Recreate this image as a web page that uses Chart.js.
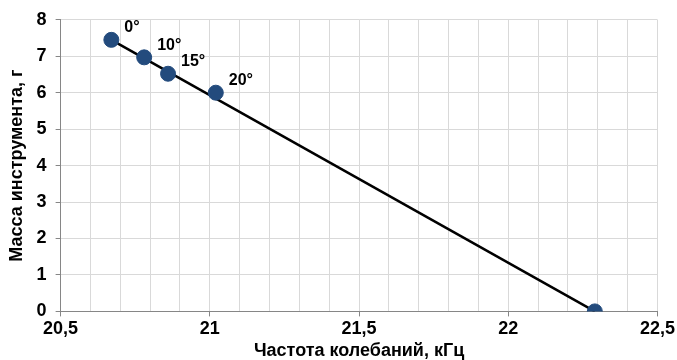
<!DOCTYPE html>
<html>
<head>
<meta charset="utf-8">
<script src="https://cdn.jsdelivr.net/npm/chart.js@4.4.1/dist/chart.umd.min.js"></script>
<style>
  html, body { margin: 0; padding: 0; background: #fff; }
  #wrap { width: 677px; height: 360px; }
</style>
</head>
<body>
<div id="wrap"><canvas id="chart"></canvas></div>
<script>
const FREQ = [20.67, 20.78, 20.86, 21.02, 22.29];
const MASS = [7.45, 6.97, 6.52, 6.0, 0];
const ANGLES = ['0°', '10°', '15°', '20°', ''];
const X_TITLE = 'Частота колебаний, кГц';
const Y_TITLE = 'Масса инструмента, г';

const FONT = 'Liberation Sans, Arial, sans-serif';

const points = FREQ.map((f, i) => ({ x: f, y: MASS[i] }));

// straight line from the first to the last measurement
const trend = [points[0], points[points.length - 1]];

const isMajor = (v) => Math.round(v * 10) % 5 === 0;

// angle labels next to the markers
const angleLabels = {
  id: 'angleLabels',
  afterDatasetsDraw(chart) {
    const { ctx, scales } = chart;
    ctx.save();
    ctx.font = 'bold 16px ' + FONT;
    ctx.fillStyle = '#000';
    ctx.textAlign = 'left';
    ctx.textBaseline = 'bottom';
    points.forEach((p, i) => {
      if (!ANGLES[i]) return;
      const px = scales.x.getPixelForValue(p.x);
      const py = scales.y.getPixelForValue(p.y);
      ctx.fillText(ANGLES[i], px + 13, py - 4);
    });
    ctx.restore();
  },
};

new Chart(document.getElementById('chart'), {
  type: 'scatter',
  data: {
    datasets: [
      {
        data: trend,
        showLine: true,
        borderColor: '#000',
        borderWidth: 2.5,
        pointRadius: 0,
        order: 2,
      },
      {
        data: points,
        backgroundColor: '#234B7D',
        borderColor: '#234B7D',
        pointRadius: 7.5,
        pointHoverRadius: 7.5,
        order: 1,
      },
    ],
  },
  options: {
    responsive: true,
    maintainAspectRatio: false,
    animation: false,
    layout: { padding: { top: 9, right: -3, left: 1, bottom: 0 } },
    plugins: {
      legend: { display: false },
      tooltip: { enabled: false },
    },
    scales: {
      x: {
        type: 'linear',
        min: 20.5,
        max: 22.5,
        ticks: {
          stepSize: 0.1,
          autoSkip: false,
          maxRotation: 0,
          padding: 2,
          color: '#000',
          font: { family: FONT, size: 18, weight: 'bold' },
          callback: (v) => (isMajor(v) ? String(Math.round(v * 10) / 10).replace('.', ',') : ''),
        },
        grid: {
          color: '#D9D9D9',
          lineWidth: 1,
          tickLength: 5,
          tickColor: (ctx) => (ctx.tick && isMajor(ctx.tick.value) ? '#868686' : 'rgba(0,0,0,0)'),
        },
        border: { color: '#868686', width: 1 },
        title: {
          display: true,
          text: X_TITLE,
          color: '#000',
          padding: { top: 0, bottom: 0 },
          font: { family: FONT, size: 18, weight: 'bold', lineHeight: 1 },
        },
      },
      y: {
        min: 0,
        max: 8,
        ticks: {
          stepSize: 1,
          padding: 9,
          color: '#000',
          font: { family: FONT, size: 18, weight: 'bold' },
        },
        grid: {
          color: '#D9D9D9',
          lineWidth: 1,
          tickLength: 5,
          tickColor: '#868686',
        },
        border: { color: '#868686', width: 1 },
        title: {
          display: true,
          text: Y_TITLE,
          color: '#000',
          padding: { top: 5, bottom: 0 },
          font: { family: FONT, size: 18, weight: 'bold' },
        },
      },
    },
  },
  plugins: [angleLabels],
});
</script>
</body>
</html>
